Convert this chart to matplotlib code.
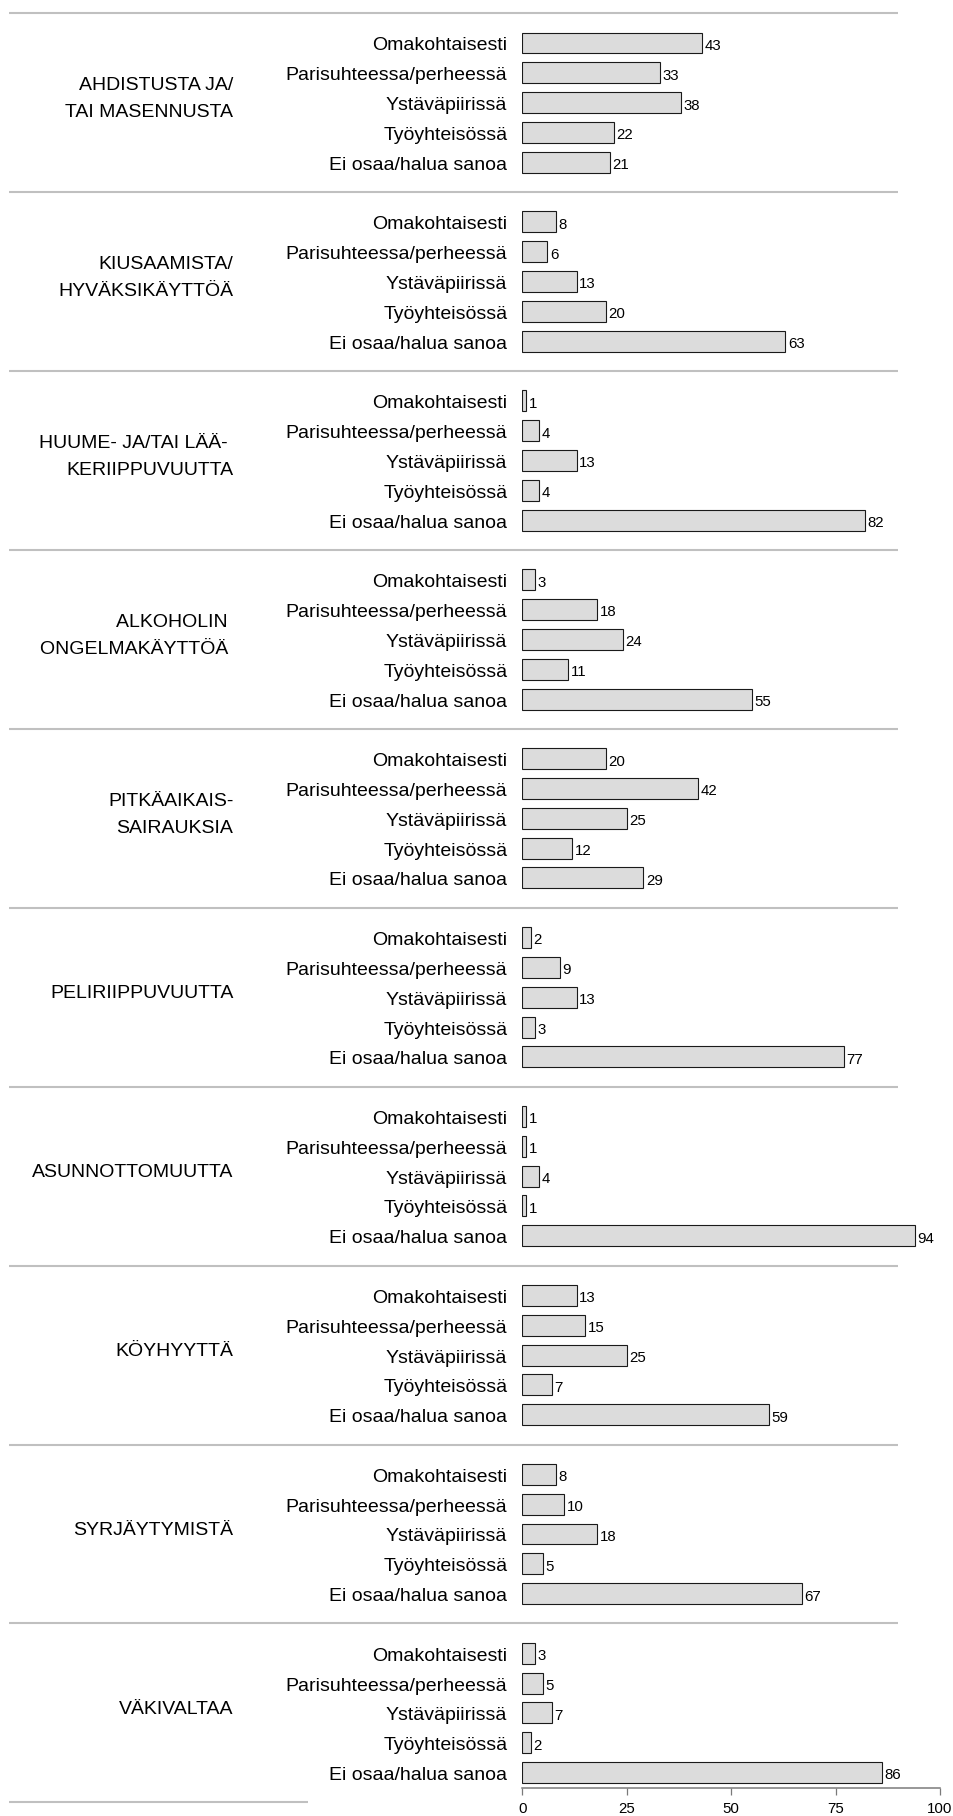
import numpy as np
import matplotlib
matplotlib.use("Agg")
import matplotlib.pyplot as plt
from matplotlib import font_manager
import matplotlib.transforms as mtransforms

# ---------------- data ----------------
groups = [
    "AHDISTUSTA JA/\nTAI MASENNUSTA",
    "KIUSAAMISTA/\nHYVÄKSIKÄYTTÖÄ",
    "HUUME- JA/TAI LÄÄ- \nKERIIPPUVUUTTA",
    "ALKOHOLIN \nONGELMAKÄYTTÖÄ ",
    "PITKÄAIKAIS-\nSAIRAUKSIA",
    "PELIRIIPPUVUUTTA",
    "ASUNNOTTOMUUTTA",
    "KÖYHYYTTÄ",
    "SYRJÄYTYMISTÄ",
    "VÄKIVALTAA",
]
categories = ["Omakohtaisesti", "Parisuhteessa/perheessä", "Ystäväpiirissä",
              "Työyhteisössä", "Ei osaa/halua sanoa"]
v_ahdistus = [43, 33, 38, 22, 21]
v_kiusaaminen = [8, 6, 13, 20, 63]
v_huume = [1, 4, 13, 4, 82]
v_alkoholi = [3, 18, 24, 11, 55]
v_pitkaaikais = [20, 42, 25, 12, 29]
v_peli = [2, 9, 13, 3, 77]
v_asunnottomuus = [1, 1, 4, 1, 94]
v_koyhyys = [13, 15, 25, 7, 59]
v_syrjaytyminen = [8, 10, 18, 5, 67]
v_vakivalta = [3, 5, 7, 2, 86]
values = [v_ahdistus, v_kiusaaminen, v_huume, v_alkoholi, v_pitkaaikais,
          v_peli, v_asunnottomuus, v_koyhyys, v_syrjaytyminen, v_vakivalta]
xticks = [0, 25, 50, 75, 100]

# ---------------- fonts ----------------
def has_font(name):
    try:
        font_manager.findfont(font_manager.FontProperties(family=name),
                              fallback_to_default=False)
        return True
    except Exception:
        return False

if has_font("Liberation Sans Narrow"):
    FAM = ["Liberation Sans Narrow", "DejaVu Sans"]
    LBL, SML = 17, 12.75
else:
    FAM = ["Liberation Sans", "DejaVu Sans"]
    LBL, SML = 14, 10.8
plt.rcParams["font.family"] = FAM

# ---------------- layout ----------------
W, H = 954, 1816
DPI = 100
fig = plt.figure(figsize=(W / DPI, H / DPI), dpi=DPI)

x0_px, x1_px = 522.3, 940.0
first_c, slot = 43.0, 29.82
axis_px = 1788.0
ax = fig.add_axes([x0_px / W, (H - axis_px) / H, (x1_px - x0_px) / W, axis_px / H])
ax.set_xlim(0, 100)
ax.set_ylim((axis_px - first_c) / slot, -first_c / slot)

ngroups = len(groups)
ncat = len(categories)
gap = 1
pos = []
for g in range(ngroups):
    for c in range(ncat):
        pos.append(g * (ncat + gap) + c)
pos = np.array(pos)
vals = np.concatenate([np.array(v) for v in values])

ax.barh(pos, vals, height=0.704, color="#dcdcdc", edgecolor="#1a1a1a",
        linewidth=0.8, zorder=2)

px = 72.0 / DPI  # points per pixel
em_lbl = LBL / px
em_sml = SML / px
cap_half_lbl = 0.36 * em_lbl
cap_half_sml = 0.358 * em_sml

trans_lbl = mtransforms.blended_transform_factory(ax.transAxes, ax.transData)

# category labels (right aligned, caps centred on bar)
for p, name in zip(pos, [categories[i % ncat] for i in range(len(pos))]):
    off = mtransforms.offset_copy(trans_lbl, fig=fig, x=-15 * px,
                                  y=-(cap_half_lbl + 0.5) * px, units="points")
    ax.text(0, p, name, transform=off, ha="right", va="baseline",
            fontsize=LBL, color="#000000", clip_on=False)

# value labels
for p, v in zip(pos, vals):
    off = mtransforms.offset_copy(ax.transData, fig=fig, x=2.5 * px,
                                  y=-(cap_half_sml + 1.5) * px, units="points")
    ax.text(v, p, f"{v}", transform=off, ha="left", va="baseline",
            fontsize=SML, color="#000000", clip_on=False)

# group labels (right aligned at figure x=233px)
trans_grp = mtransforms.blended_transform_factory(fig.transFigure, ax.transData)
line_gap = 27.0
for g, glabel in enumerate(groups):
    lines = glabel.split("\n")
    n = len(lines)
    centre = g * (ncat + gap) + (ncat - 1) / 2
    for k, ln in enumerate(lines):
        dy = (k - (n - 1) / 2) * line_gap - 6.2 + cap_half_lbl  # pixels downward
        off = mtransforms.offset_copy(trans_grp, fig=fig, x=0, y=-dy * px, units="points")
        ax.text(233.5 / W, centre, ln, transform=off, ha="right", va="baseline",
                fontsize=LBL, color="#000000", clip_on=False)

# separators
trans_sep = mtransforms.blended_transform_factory(fig.transFigure, ax.transData)
for g in range(ngroups + 1):
    ysep = g * (ncat + gap) - 1
    xend = 898.5 if g < ngroups else 308.0
    ax.plot([9 / W, xend / W], [ysep, ysep], transform=trans_sep, color="#c0c0c0",
            linewidth=1.5, clip_on=False, solid_capstyle="butt", zorder=1)

# axes styling
for s in ["top", "right", "left"]:
    ax.spines[s].set_visible(False)
ax.spines["bottom"].set_bounds(0, 100)
ax.spines["bottom"].set_color("#7a7a7a")
ax.spines["bottom"].set_linewidth(1.1)
ax.set_yticks([])
ax.set_xticks(xticks)
ax.set_xticklabels([str(t) for t in xticks])
ax.tick_params(axis="x", direction="out", length=5.2, width=0.9, color="#7a7a7a",
               pad=5.2, labelsize=SML, labelcolor="#000000")
ax.patch.set_visible(False)

fig.savefig("out.png", dpi=DPI)
